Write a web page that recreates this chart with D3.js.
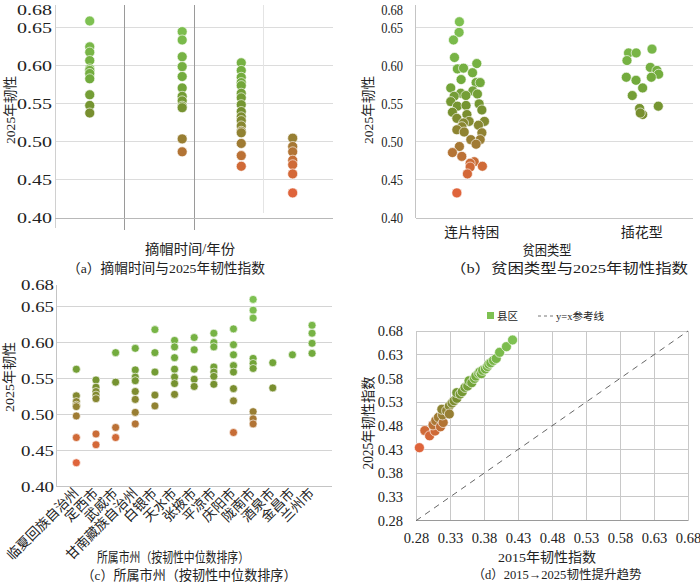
<!DOCTYPE html>
<html>
<head>
<meta charset="utf-8">
<script src="https://cdn.jsdelivr.net/npm/d3@7"></script>
<style>
  body { margin: 0; background: #fff; }
  text { font-family: "Liberation Serif", "Noto Sans CJK SC", serif; fill: #222; }
</style>
</head>
<body>
<svg id="chart" width="700" height="584"></svg>
<script>
// ---- data ----
// (a) 摘帽时间 groups: position on the (unlabelled) year axis, and 2025 resilience values
var aGroupX = [0.5, 1.83, 2.68, 3.42];
var aValues = [
  [0.659, 0.625, 0.618, 0.607, 0.596, 0.594, 0.590, 0.583, 0.562, 0.548, 0.538],
  [0.645, 0.634, 0.612, 0.599, 0.586, 0.571, 0.560, 0.554, 0.547, 0.545, 0.504, 0.487],
  [0.604, 0.594, 0.585, 0.578, 0.574, 0.564, 0.558, 0.549, 0.540, 0.533, 0.528, 0.521, 0.514, 0.512, 0.498, 0.482, 0.468],
  [0.505, 0.494, 0.487, 0.476, 0.470, 0.458, 0.433]
];
var aTicks = [0.40, 0.45, 0.50, 0.55, 0.60, 0.65, 0.68];

// (b) 贫困类型
var bCategories = ["连片特困", "插花型"];
var bContigValues = [0.658, 0.644, 0.634, 0.611, 0.603, 0.596, 0.597, 0.591, 0.582, 0.578, 0.578, 0.571, 0.567, 0.564, 0.560,
  0.563, 0.561, 0.553, 0.550, 0.547, 0.548, 0.542, 0.539, 0.536, 0.531, 0.527, 0.527, 0.525, 0.520, 0.522, 0.516, 0.513,
  0.512, 0.503, 0.503, 0.497, 0.494, 0.486, 0.481, 0.474, 0.472, 0.468, 0.467, 0.458, 0.433];
var bContigJitter = [-0.073, -0.075, -0.108, -0.102, 0.029, -0.085, -0.049, 0.004, -0.063, 0.025, 0.049, -0.124, 0.006, -0.065, -0.104,
  0.033, -0.035, -0.124, 0.043, -0.085, -0.034, 0.059, -0.114, -0.029, -0.088, -0.016, 0.074, -0.049, -0.059, 0.039, -0.088, -0.045,
  0.059, -0.006, 0.049, 0.025, -0.073, -0.114, -0.059, 0.014, -0.010, 0.062, -0.010, -0.026, -0.088];
var bScatterValues = [0.617, 0.617, 0.622, 0.607, 0.598, 0.594, 0.589, 0.585, 0.585, 0.581, 0.571, 0.561, 0.544, 0.547, 0.536, 0.538];
var bScatterJitter = [-0.079, -0.034, 0.059, -0.088, 0.049, 0.088, 0.098, 0.055, -0.092, -0.035, 0.004, -0.057, -0.014, 0.096, 0.004, -0.010];

// (c) 所属市州 (sorted by median resilience)
var cCities = ["临夏回族自治州", "定西市", "武威市", "甘南藏族自治州", "白银市", "天水市", "张掖市",
  "平凉市", "庆阳市", "陇南市", "酒泉市", "金昌市", "兰州市"];
var cValues = [
  [0.563, 0.526, 0.518, 0.513, 0.511, 0.498, 0.468, 0.433],
  [0.548, 0.538, 0.532, 0.527, 0.522, 0.473, 0.458],
  [0.586, 0.545, 0.482, 0.468],
  [0.592, 0.562, 0.552, 0.547, 0.532, 0.521, 0.503, 0.487],
  [0.618, 0.586, 0.559, 0.527, 0.512],
  [0.603, 0.594, 0.579, 0.563, 0.552, 0.543, 0.528],
  [0.607, 0.590, 0.563, 0.549, 0.539],
  [0.613, 0.600, 0.594, 0.566, 0.559, 0.553, 0.542],
  [0.619, 0.597, 0.583, 0.568, 0.559, 0.536, 0.519, 0.475],
  [0.660, 0.645, 0.634, 0.578, 0.571, 0.564, 0.504, 0.494, 0.487],
  [0.572, 0.537],
  [0.583],
  [0.624, 0.613, 0.599, 0.585]
];

// (d) 2015 vs 2025
var d2015 = [0.285, 0.293, 0.300, 0.308, 0.305, 0.309, 0.313, 0.316, 0.320, 0.319, 0.318, 0.325, 0.329, 0.329, 0.333, 0.336,
  0.340, 0.340, 0.345, 0.348, 0.352, 0.356, 0.358, 0.362, 0.366, 0.368, 0.372, 0.374, 0.376, 0.378, 0.382, 0.385, 0.387,
  0.390, 0.394, 0.398, 0.403, 0.413, 0.422];
var d2025 = [0.434, 0.470, 0.459, 0.469, 0.482, 0.491, 0.498, 0.478, 0.487, 0.503, 0.515, 0.512, 0.522, 0.505, 0.528, 0.533,
  0.538, 0.550, 0.547, 0.552, 0.561, 0.564, 0.575, 0.571, 0.580, 0.585, 0.591, 0.594, 0.590, 0.597, 0.600, 0.605, 0.610,
  0.613, 0.618, 0.622, 0.635, 0.647, 0.661];
var dTicks = [0.28, 0.33, 0.38, 0.43, 0.48, 0.53, 0.58, 0.63, 0.68];

// ---- helpers ----
var svg = d3.select("#chart");
var fmt = d3.format(".2f");
var color = d3.scaleLinear()
  .domain([0.43, 0.47, 0.50, 0.54, 0.58, 0.66])
  .range(["#e0633b", "#cf6a37", "#9c7c33", "#76902f", "#72aa3c", "#7ec152"]);

// stretch text horizontally (the source figure panels were resized unevenly)
function stretch(sel, k) {
  sel.each(function() {
    var w = this.getComputedTextLength();
    d3.select(this).attr("textLength", w * k).attr("lengthAdjust", "spacingAndGlyphs");
  });
}
function fitText(sel, width) {
  sel.attr("textLength", width).attr("lengthAdjust", "spacingAndGlyphs");
}
function label(x, y, txt, size, width, rotate) {
  var t = svg.append("text")
    .attr("x", x).attr("y", y)
    .attr("text-anchor", "middle")
    .attr("dominant-baseline", "central")
    .attr("font-size", size)
    .text(txt);
  if (rotate) t.attr("transform", "rotate(" + rotate + "," + x + "," + y + ")");
  if (width) fitText(t, width);
  return t;
}
function hline(g, x1, x2, y, col) {
  g.append("line").attr("x1", x1).attr("x2", x2).attr("y1", y).attr("y2", y)
    .attr("stroke", col).attr("stroke-width", 1).attr("shape-rendering", "crispEdges");
}
function vline(g, x, y1, y2, col) {
  g.append("line").attr("x1", x).attr("x2", x).attr("y1", y1).attr("y2", y2)
    .attr("stroke", col).attr("stroke-width", 1).attr("shape-rendering", "crispEdges");
}
function dots(g, data, r) {
  g.selectAll("circle.pt").data(data).enter().append("circle")
    .attr("class", "pt")
    .attr("cx", function(d) { return d.x; })
    .attr("cy", function(d) { return d.y; })
    .attr("r", r)
    .attr("fill", function(d) { return color(d.v); })
    .attr("stroke", "#fff").attr("stroke-opacity", 0.8).attr("stroke-width", 0.8);
}
function yTicks(g, scale, ticks, x, size, k) {
  var ax = g.append("g").attr("transform", "translate(" + x + ",0)")
    .call(d3.axisLeft(scale).tickValues(ticks).tickSize(0).tickPadding(0).tickFormat(fmt));
  ax.select(".domain").remove();
  ax.selectAll("text").attr("font-size", size).attr("font-family", null).attr("fill", "#222");
  // keep the top label (0.68) inside the picture
  ax.selectAll("text").filter(function(d) { return scale(d) < 10; }).attr("dy", "0.62em");
  stretch(ax.selectAll("text"), k);
  return ax;
}

// ---- (a) 摘帽时间 ----
var xA = d3.scaleLinear().domain([0, 4]).range([55, 333]);
var yA = d3.scaleLinear().domain([0.40, 0.68]).range([218, 5]);
var gA = svg.append("g");
[0.45, 0.50, 0.55, 0.60, 0.65].forEach(function(v) { hline(gA, 55, 333, yA(v), "#dcdcdc"); });
vline(gA, xA(0), 5, 228, "#d0d0d0");
vline(gA, xA(1), 5, 230, "#9a9a9a");
vline(gA, xA(2), 5, 230, "#9a9a9a");
vline(gA, xA(3), 5, 213, "#e4e4e4");
hline(gA, 55, 333, yA(0.40), "#b8b8b8");
var aPts = [];
aValues.forEach(function(vals, i) {
  vals.forEach(function(v) { aPts.push({ x: xA(aGroupX[i]), y: yA(v), v: v }); });
});
dots(gA, aPts, 5);
yTicks(gA, yA, aTicks, 52, 14.5, 1.38);
label(10, 110, "2025年韧性", 13.5, 68, -90);
label(190, 249, "摘帽时间/年份", 14, 90);
label(166, 268, "（a）摘帽时间与2025年韧性指数", 13.5, 198);

// ---- (b) 贫困类型 ----
var xB = d3.scaleLinear().domain([-0.33, 1.3]).range([415.7, 693]);
var yB = d3.scaleLinear().domain([0.40, 0.68]).range([218, 5]);
var gB = svg.append("g");
[0.45, 0.50, 0.55, 0.60, 0.65].forEach(function(v) { hline(gB, 415.7, 693, yB(v), "#dcdcdc"); });
vline(gB, 415.7, 5, 218, "#c4c4c4");
hline(gB, 415.7, 693, yB(0.40), "#c4c4c4");
var bPts = [];
bContigValues.forEach(function(v, i) { bPts.push({ x: xB(0 + bContigJitter[i]), y: yB(v), v: v }); });
bScatterValues.forEach(function(v, i) { bPts.push({ x: xB(1 + bScatterJitter[i]), y: yB(v), v: v }); });
dots(gB, bPts, 5);
yTicks(gB, yB, aTicks, 403, 14.5, 0.86);
label(471.7, 232, bCategories[0], 13.5, 55);
label(641.7, 232, bCategories[1], 13.5, 42);
label(368, 110, "2025年韧性", 13.5, 68, -90);
label(547, 250, "贫困类型", 13.5, 49);
label(569, 268, "（b）贫困类型与2025年韧性指数", 13.5, 238);

// ---- (c) 所属市州 ----
var xC = d3.scalePoint().domain(cCities).range([56.7, 331.7]).padding(1);
var yC = d3.scaleLinear().domain([0.40, 0.68]).range([486.5, 285]);
var gC = svg.append("g");
[0.45, 0.50, 0.55, 0.60, 0.65].forEach(function(v) { hline(gC, 56.7, 331.7, yC(v), "#d4d4d4"); });
vline(gC, 56.7, 285, 486.5, "#c4c4c4");
hline(gC, 56.7, 331.7, yC(0.40), "#c4c4c4");
var cPts = [];
cValues.forEach(function(vals, i) {
  vals.forEach(function(v) { cPts.push({ x: xC(cCities[i]), y: yC(v), v: v }); });
});
dots(gC, cPts, 4);
yTicks(gC, yC, aTicks, 54, 14.5, 1.3);
gC.selectAll("text.cat").data(cCities).enter().append("text")
  .attr("class", "cat")
  .attr("x", function(d) { return xC(d) + 3; })
  .attr("y", 494)
  .attr("text-anchor", "end")
  .attr("font-size", 13.5)
  .attr("transform", function(d) { return "rotate(-45," + (xC(d) + 3) + ",494)"; })
  .text(function(d) { return d; });
label(9, 377, "2025年韧性", 13.5, 70, -90);
label(173, 557, "所属市州（按韧性中位数排序）", 13.5, 152);
label(189, 575, "（c）所属市州（按韧性中位数排序）", 13.5, 215);

// ---- (d) 2015 -> 2025 ----
var xD = d3.scaleLinear().domain([0.28, 0.68]).range([416, 688]);
var yD = d3.scaleLinear().domain([0.28, 0.68]).range([520.7, 331]);
var gD = svg.append("g");
dTicks.forEach(function(v) {
  hline(gD, 416, 688, yD(v), "#c8c8c8");
  vline(gD, xD(v), 331, 520.7, "#c8c8c8");
});
hline(gD, 416, 688, yD(0.28), "#9a9a9a");
gD.append("line")
  .attr("x1", xD(0.28)).attr("y1", yD(0.28))
  .attr("x2", xD(0.68)).attr("y2", yD(0.68))
  .attr("stroke", "#666").attr("stroke-width", 1).attr("stroke-dasharray", "6,5");
var dPts = d2015.map(function(v, i) { return { x: xD(v), y: yD(d2025[i]), v: d2025[i] }; });
dots(gD, dPts, 5);
yTicks(gD, yD, dTicks, 403, 14.5, 1.0);
var axD = gD.append("g").attr("transform", "translate(0,520.7)")
  .call(d3.axisBottom(xD).tickValues(dTicks).tickSize(0).tickPadding(12).tickFormat(fmt));
axD.select(".domain").remove();
axD.selectAll("text").attr("font-size", 14.5).attr("font-family", null).attr("fill", "#222");
label(368, 423, "2025年韧性指数", 14, 93, -90);
label(547, 557, "2015年韧性指数", 13.5, 98);
label(557, 575, "（d）2015→2025韧性提升趋势", 12.5, 169);

// legend
var leg = svg.append("g");
leg.append("rect").attr("x", 487).attr("y", 312).attr("width", 7).attr("height", 7).attr("fill", "#7ec152");
leg.append("text").attr("x", 497).attr("y", 316).attr("dominant-baseline", "central")
  .attr("font-size", 10.5).text("县区");
leg.append("line").attr("x1", 538).attr("x2", 554).attr("y1", 316).attr("y2", 316)
  .attr("stroke", "#777").attr("stroke-dasharray", "3,3");
leg.append("text").attr("x", 556).attr("y", 316).attr("dominant-baseline", "central")
  .attr("font-size", 10.5).text("y=x参考线");
</script>
</body>
</html>
